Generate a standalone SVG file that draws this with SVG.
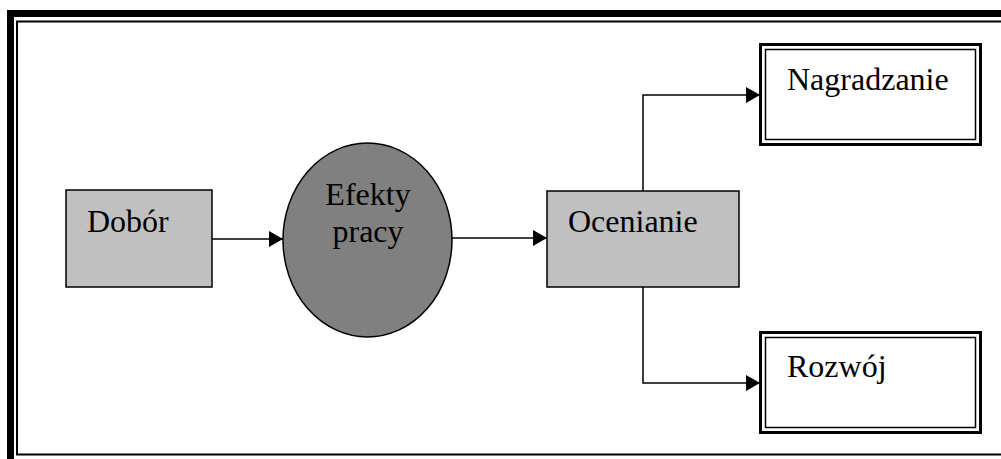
<svg xmlns="http://www.w3.org/2000/svg" width="1001" height="459" viewBox="0 0 1001 459">
<defs>
<marker id="arr" markerUnits="userSpaceOnUse" markerWidth="14" markerHeight="16" refX="14" refY="8" orient="auto">
<path d="M0,0 L14,8 L0,16 Z" fill="#000"/>
</marker>
<style>
.lbl{font-family:"Liberation Serif","Times New Roman",serif;font-size:32px;fill:#000}
.box{fill:#c0c0c0;stroke:#000;stroke-width:1.5}
.ell{fill:#808080;stroke:#000;stroke-width:1.5}
.dbl-o{fill:#fff;stroke:#000;stroke-width:3}
.dbl-i{fill:none;stroke:#000;stroke-width:1.5}
.conn{fill:none;stroke:#000;stroke-width:1.5}
</style>
</defs>
<rect width="1001" height="459" fill="#fff"/>
<g id="frame">
<rect x="10.5" y="13.5" width="1100" height="600" fill="none" stroke="#000" stroke-width="7"/>
<rect x="17" y="21.5" width="1100" height="433" fill="none" stroke="#000" stroke-width="2"/>
</g>
<g id="connectors">
<line class="conn" x1="212" y1="239" x2="283" y2="239" marker-end="url(#arr)"/>
<line class="conn" x1="452" y1="238" x2="547" y2="238" marker-end="url(#arr)"/>
<polyline class="conn" points="643,191 643,95 760,95" marker-end="url(#arr)"/>
<polyline class="conn" points="643,287 643,383 760,383" marker-end="url(#arr)"/>
</g>
<g id="dobor">
<rect class="box" x="66" y="190" width="146" height="97"/>
<text class="lbl" x="87" y="232">Dobór</text>
</g>
<g id="efekty">
<ellipse class="ell" cx="367.5" cy="240" rx="84.5" ry="97"/>
<text class="lbl" x="368" y="205" text-anchor="middle">Efekty</text>
<text class="lbl" x="368" y="242" text-anchor="middle">pracy</text>
</g>
<g id="ocenianie">
<rect class="box" x="547" y="191" width="192" height="96"/>
<text class="lbl" x="568" y="232">Ocenianie</text>
</g>
<g id="nagradzanie">
<rect class="dbl-o" x="760.5" y="44.5" width="220" height="100"/>
<rect class="dbl-i" x="765.5" y="49.5" width="210" height="90"/>
<text class="lbl" x="787" y="90">Nagradzanie</text>
</g>
<g id="rozwoj">
<rect class="dbl-o" x="760.5" y="332.5" width="220" height="100"/>
<rect class="dbl-i" x="765.5" y="337.5" width="210" height="90"/>
<text class="lbl" x="787" y="377">Rozwój</text>
</g>
</svg>
